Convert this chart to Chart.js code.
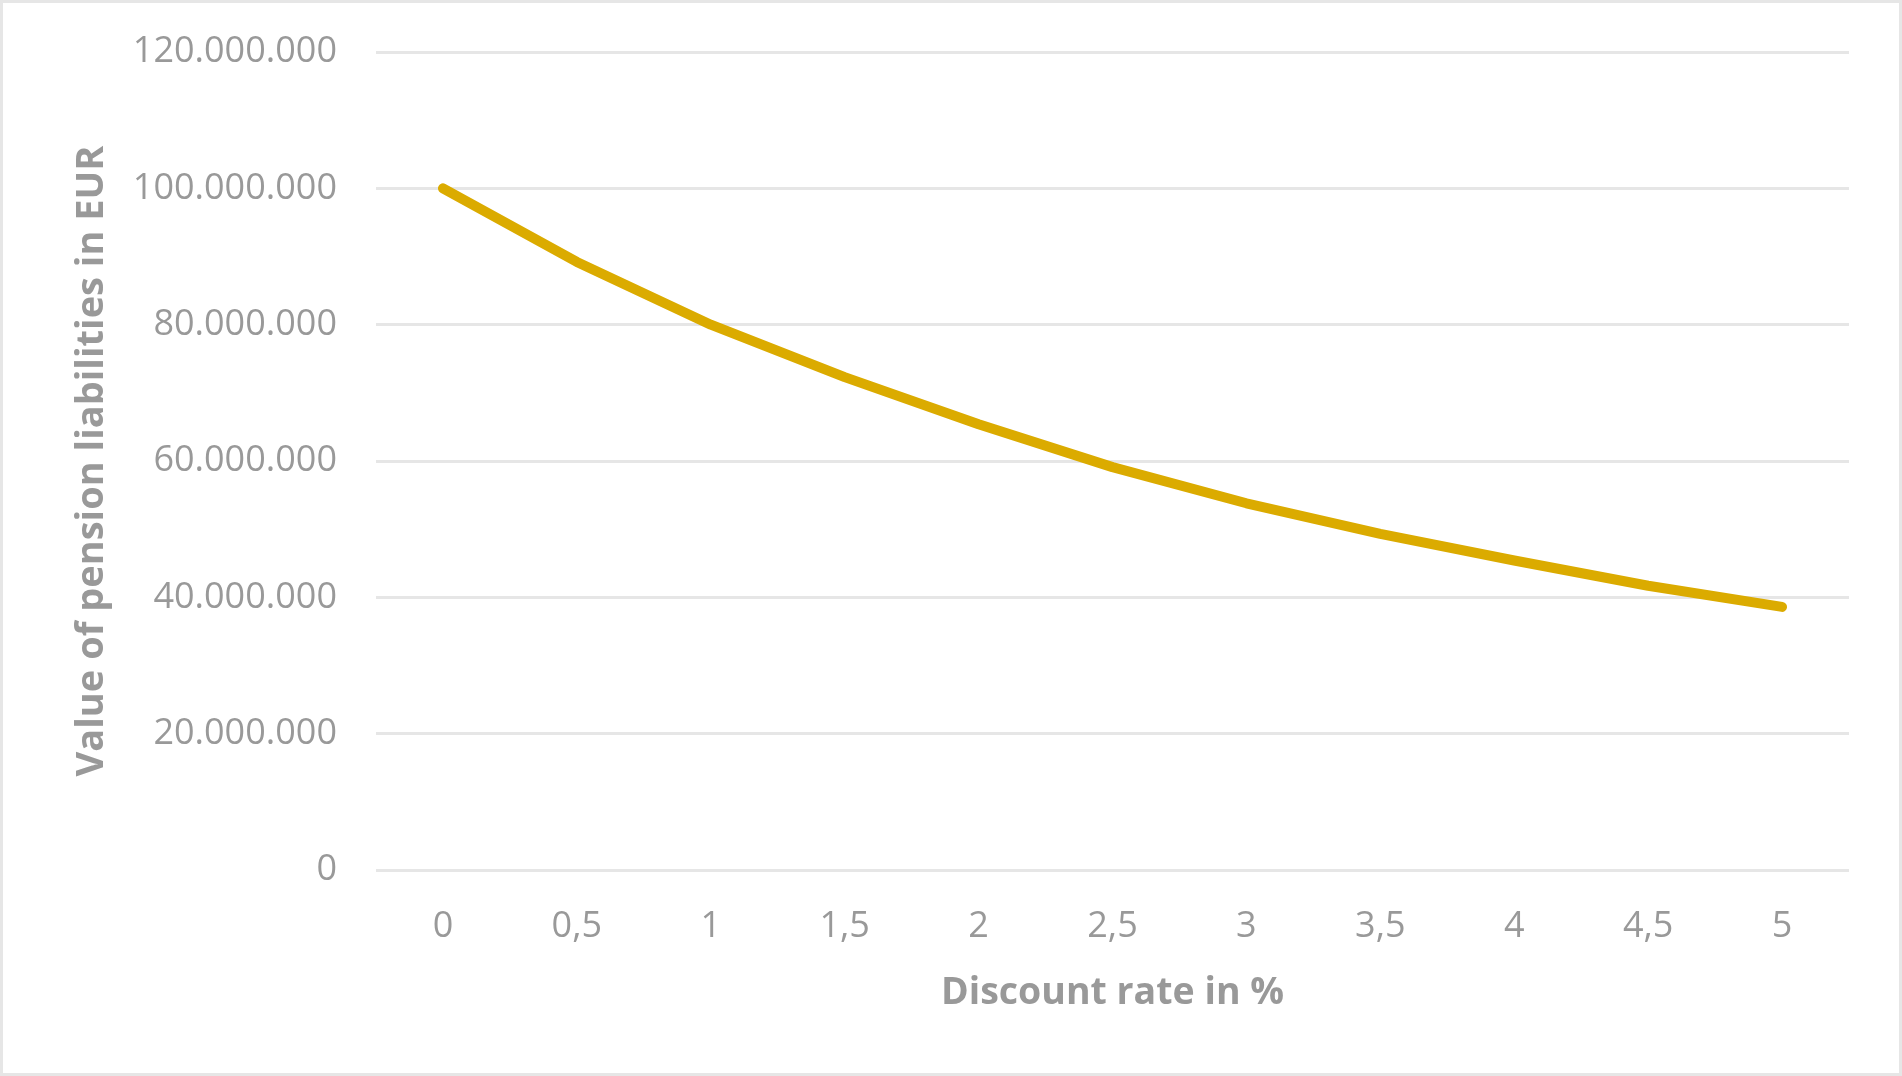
<!DOCTYPE html>
<html>
<head>
<meta charset="utf-8">
<script src="https://cdn.jsdelivr.net/npm/chart.js@4.4.0/dist/chart.umd.min.js"></script>
<style>
  html, body { margin: 0; padding: 0; background: #fff; }
  #wrap {
    width: 1896px; height: 1070px;
    border: 3px solid #e6e6e6;
  }
</style>
</head>
<body>
<div id="wrap"><canvas id="pensionChart" width="1896" height="1070"></canvas></div>
<script>
// discount rate categories and liability values
const rates = ['0', '0,5', '1', '1,5', '2', '2,5', '3', '3,5', '4', '4,5', '5'];
const liabilities = [100000000, 89200000, 80000000, 72300000, 65400000, 59100000, 53800000, 49300000, 45400000, 41700000, 38600000];
const yTicks = [0, 20000000, 40000000, 60000000, 80000000, 100000000, 120000000];

const grey = '#999999';

function fmtDots(v) {
  return String(v).replace(/\B(?=(\d{3})+(?!\d))/g, '.');
}

document.addEventListener('DOMContentLoaded', function () {
  const ctx = document.getElementById('pensionChart').getContext('2d');
  new Chart(ctx, {
    type: 'line',
    data: {
      labels: rates,
      datasets: [{
        label: 'Value of pension liabilities',
        data: liabilities,
        borderColor: '#dbab00',
        borderWidth: 10,
        borderCapStyle: 'round',
        borderJoinStyle: 'round',
        pointRadius: 0,
        tension: 0,
        fill: false
      }]
    },
    options: {
      responsive: false,
      animation: false,
      layout: { padding: { top: 49, right: 50, left: 0, bottom: 0 } },
      plugins: {
        legend: { display: false },
        tooltip: { enabled: false }
      },
      scales: {
        x: {
          offset: true,
          grid: { display: false, drawTicks: false },
          border: { display: false },
          ticks: {
            color: grey,
            padding: 35,
            maxRotation: 0,
            font: { family: 'Open Sans', size: 36 }
          },
          title: {
            display: true,
            text: 'Discount rate in %',
            color: grey,
            padding: { top: 0, bottom: 57 },
            font: { family: 'Open Sans', size: 37.5, weight: 'bold' }
          },
          afterFit: (s) => {
            s.height = 203;
            s.paddingLeft = 0;
            s.paddingRight = 0;
          }
        },
        y: {
          min: 0,
          max: 120000000,
          afterBuildTicks: (s) => { s.ticks = yTicks.map(v => ({ value: v })); },
          grid: { color: '#e6e6e6', lineWidth: 3, drawTicks: false },
          border: { display: false },
          ticks: {
            color: grey,
            padding: 39,
            font: { family: 'Open Sans', size: 36 },
            callback: (v) => fmtDots(v)
          },
          title: {
            display: true,
            text: 'Value of pension liabilities in EUR',
            color: grey,
            padding: { top: 66, bottom: 0 },
            font: { family: 'Open Sans', size: 38, weight: 'bold' }
          },
          afterFit: (s) => {
            s.width = 373;
            s.paddingTop = 0;
            s.paddingBottom = 0;
          }
        }
      }
    }
  });
});
</script>
</body>
</html>
